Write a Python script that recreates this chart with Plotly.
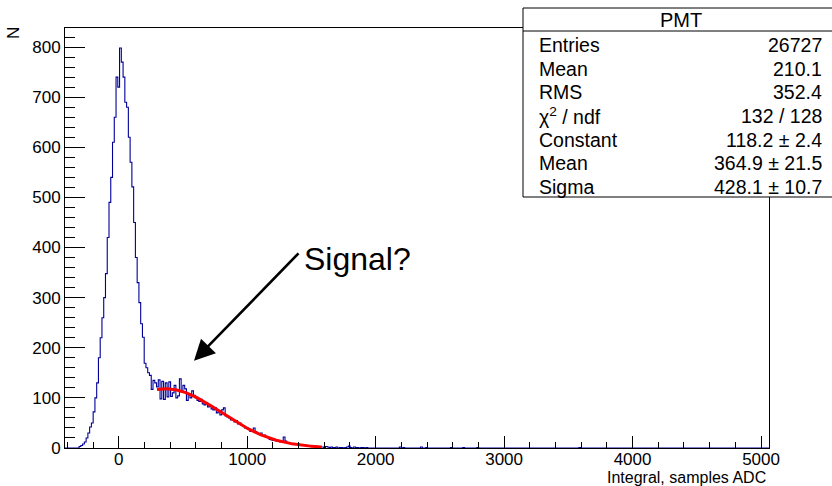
import plotly.graph_objects as go
import math

# ---------------- data ----------------
X_MIN, X_MAX = -418.0, 5062.0
BIN_WIDTH = 13.7
N_BINS = 400
FIRST_FILLED_BIN = 8
COUNTS_MAIN = [
    3, 5, 8, 12, 20, 30, 42, 50, 72, 100, 130, 180, 220, 260, 300, 348, 420, 490, 540, 610,
    660, 740, 720, 798, 770, 740, 690, 680, 620, 570, 521, 450, 380, 330, 290, 248, 221, 169, 160, 150,
    145, 117, 135, 130, 122, 136, 98, 133, 97, 130, 102, 132, 103, 110, 125, 100, 104, 138, 112, 125,
    118, 95, 108, 100, 114, 105, 100, 95, 93, 97, 88, 86, 90, 82, 85, 78, 76, 80, 70, 72,
    66, 76, 80, 64, 62, 60, 56, 57, 52, 55, 48, 50, 45, 44, 40, 41, 38, 33, 35, 40,
    33, 29, 28, 30, 25, 26, 23, 21, 17, 16, 15, 16, 13, 14, 12, 13, 22, 14, 11, 10,
    9, 9, 8, 7, 8, 6, 6, 5, 6, 4, 5, 4, 3, 4, 3, 2, 3, 2, 2, 1,
    3, 2, 1, 2, 1, 1, 2, 0, 1, 1, 0, 1, 2, 4, 1, 0, 2, 1, 1, 0,
    1, 1, 0, 1,
]
SPARSE_BINS = [190, 192, 202, 205, 219, 226, 234, 292]
SPARSE_COUNTS = [2, 1, 2, 1, 1, 1, 1, 1]

FIT_CONSTANT = 118.2
FIT_MEAN = 364.9
FIT_SIGMA = 428.1
FIT_RANGE = [298.0, 1580.0]

STAT_TITLE = "PMT"
STAT_LABELS = ["Entries", "Mean", "RMS", "χ<sup>2</sup> / ndf", "Constant", "Mean", "Sigma"]
STAT_VALUES = ["26727", "210.1", "352.4", "132 / 128", "118.2 ± 2.4", "364.9 ± 21.5", "428.1 ± 10.7"]

X_TITLE = "Integral, samples ADC"
Y_TITLE = "N"
Y_MAX = 838

# ---------------- build histogram ----------------
counts = [0] * N_BINS
for k, c in enumerate(COUNTS_MAIN):
    counts[FIRST_FILLED_BIN + k] = c
for b, c in zip(SPARSE_BINS, SPARSE_COUNTS):
    counts[b] = c
edges = [X_MIN + BIN_WIDTH * i for i in range(N_BINS + 1)]
hx = edges[:-1] + [edges[-1]]
hy = counts + [counts[-1]]

# fitted gaussian, drawn from the parameters shown in the stats box
fx = [FIT_RANGE[0] + (FIT_RANGE[1] - FIT_RANGE[0]) * i / 200 for i in range(201)]
fy = [FIT_CONSTANT * math.exp(-((x - FIT_MEAN) ** 2) / (2 * FIT_SIGMA ** 2)) for x in fx]

FONT = "Liberation Sans, Arial, Helvetica, sans-serif"

fig = go.Figure()
fig.add_trace(go.Scatter(x=hx, y=hy, mode="lines", line=dict(shape="hv", color="#000099", width=1.1),
                         hoverinfo="skip", showlegend=False))
fig.add_trace(go.Scatter(x=fx, y=fy, mode="lines", line=dict(color="#ff0000", width=3),
                         hoverinfo="skip", showlegend=False))

W, H = 832, 486
L, R, T, B = 65, 63, 28, 38
PW, PH = W - L - R, H - T - B

def px2paper_x(px):
    return (px - L) / PW

def px2paper_y(py):
    return (H - B - py) / PH

fig.update_layout(
    width=W, height=H,
    margin=dict(l=L, r=R, t=T, b=B, pad=0),
    paper_bgcolor="white", plot_bgcolor="white",
    font=dict(family=FONT, size=17, color="black"),
    xaxis=dict(range=[X_MIN, X_MAX], showgrid=False, zeroline=False, layer="above traces",
               showline=True, linecolor="black", linewidth=1, mirror=True,
               ticks="inside", ticklen=12, tickwidth=1, tickcolor="black",
               tick0=0, dtick=1000, ticklabelstandoff=-4,
               minor=dict(ticks="inside", ticklen=6, dtick=200, tick0=0, tickcolor="black", showgrid=False),
               tickfont=dict(size=17, family=FONT, color="black")),
    yaxis=dict(range=[0, Y_MAX], showgrid=False, zeroline=False, layer="above traces",
               showline=True, linecolor="black", linewidth=1, mirror=True,
               ticks="inside", ticklen=20, tickwidth=1, tickcolor="black",
               tick0=0, dtick=100,
               minor=dict(ticks="inside", ticklen=10, dtick=20, tick0=0, tickcolor="black", showgrid=False),
               tickfont=dict(size=17, family=FONT, color="black")),
)

# stats box
box_l, box_r, box_t, box_b, title_line = 523, 840, 8, 197, 31
fig.add_shape(type="rect", xref="paper", yref="paper",
              x0=px2paper_x(box_l), x1=px2paper_x(box_r), y0=px2paper_y(box_b), y1=px2paper_y(box_t),
              line=dict(color="black", width=1), fillcolor="white", layer="above")
fig.add_shape(type="line", xref="paper", yref="paper",
              x0=px2paper_x(box_l), x1=px2paper_x(box_r), y0=px2paper_y(title_line), y1=px2paper_y(title_line),
              line=dict(color="black", width=1), layer="above")

annotations = []
annotations.append(dict(text=STAT_TITLE, xref="paper", yref="paper", x=px2paper_x(681), y=px2paper_y(20),
                        xanchor="center", yanchor="middle", showarrow=False, font=dict(size=20, family=FONT)))
row_y0, row_dy = 45, 23.7
for i, (lab, val) in enumerate(zip(STAT_LABELS, STAT_VALUES)):
    yy = px2paper_y(row_y0 + i * row_dy)
    annotations.append(dict(text=lab, xref="paper", yref="paper", x=px2paper_x(537), y=yy,
                            xanchor="left", yanchor="middle", showarrow=False, font=dict(size=19.5, family=FONT)))
    annotations.append(dict(text=val, xref="paper", yref="paper", x=px2paper_x(824), y=yy,
                            xanchor="right", yanchor="middle", showarrow=False, font=dict(size=19.5, family=FONT)))

# axis titles
annotations.append(dict(text=X_TITLE, xref="paper", yref="paper", x=px2paper_x(768), y=px2paper_y(477),
                        xanchor="right", yanchor="middle", showarrow=False, font=dict(size=16, family=FONT)))
annotations.append(dict(text=Y_TITLE, xref="paper", yref="paper", x=px2paper_x(14), y=px2paper_y(33),
                        xanchor="center", yanchor="middle", textangle=-90, showarrow=False,
                        font=dict(size=17, family=FONT)))

# signal label and arrow
annotations.append(dict(text="Signal?", xref="x", yref="y", x=1860, y=377, xanchor="center", yanchor="middle",
                        showarrow=False, font=dict(size=32, family=FONT)))
annotations.append(dict(text="", xref="x", yref="y", x=586, y=174, ax=106, ay=-109, axref="pixel", ayref="pixel",
                        showarrow=True, arrowhead=2, arrowsize=1.6, arrowwidth=2.6, arrowcolor="black"))

fig.update_layout(annotations=annotations)

fig.write_html("out.html")
